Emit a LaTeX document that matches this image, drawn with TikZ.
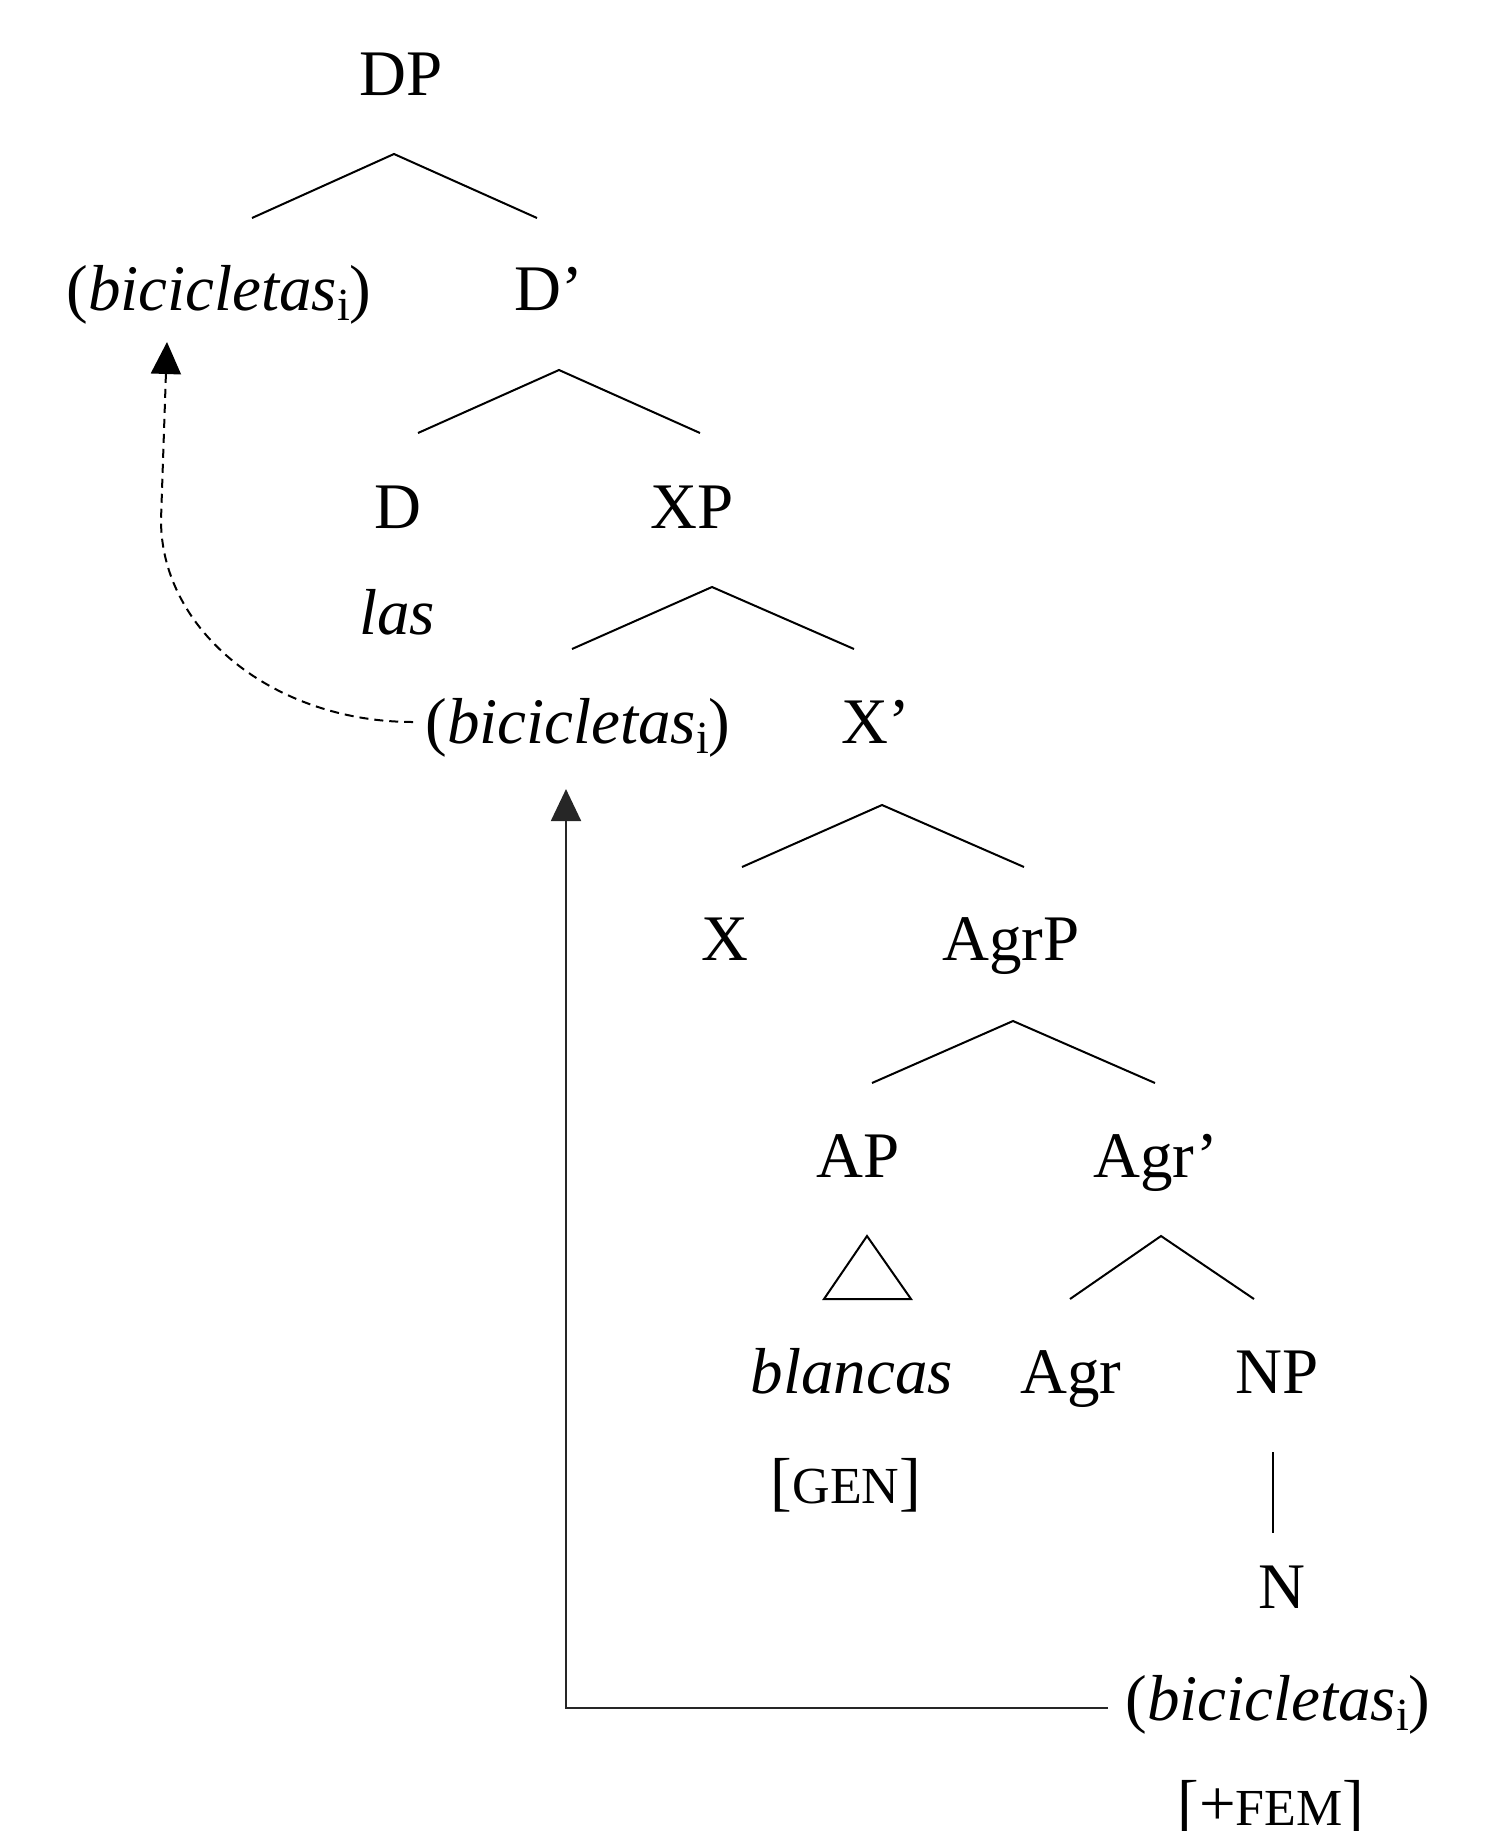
\documentclass[tikz,border=0pt]{standalone}
\usepackage{fontspec}
\setmainfont{Liberation Serif}
\usetikzlibrary{arrows.meta,calc}
\newcommand\subi{\lower 10pt\hbox{\fontsize{46}{46}\selectfont i}}
\newcommand\bic{(\textit{bicicletas}\subi)}
\newcommand\smc[1]{{\fontsize{52}{52}\selectfont #1}}
\begin{document}
\begin{tikzpicture}[x=1pt,y=-1pt,
  lbl/.style={anchor=base,inner sep=0pt,font=\fontsize{65}{78}\selectfont},
  branch/.style={line width=2pt,line join=miter},
  mv/.style={line width=2pt,-{Triangle[width=30pt,length=32pt]}},
  mvdash/.style={mv,dash pattern=on 9pt off 6pt},
]
\useasboundingbox (0,0) rectangle (1503,1831);
% nodes
\node[lbl] (dp) at (401,95) {DP};
\node[lbl] (bic1) at (219,310) {\bic};
\node[lbl] (dbar) at (549,310) {D’};
\node[lbl] (d) at (398,528) {D};
\node[lbl] (xp) at (692,528) {XP};
\node[lbl] (las) at (397,634) {\textit{las}};
\node[lbl] (bic2) at (578,743) {\bic};
\node[lbl] (xbar) at (876,743) {X’};
\node[lbl] (x) at (725,960) {X};
\node[lbl] (agrp) at (1011,960) {AgrP};
\node[lbl] (ap) at (858,1177) {AP};
\node[lbl] (agrbar) at (1156,1177) {Agr’};
\node[lbl] (blancas) at (852,1393) {\textit{blancas}};
\node[lbl] (agr) at (1071,1393) {Agr};
\node[lbl] (np) at (1277,1393) {NP};
\node[lbl] (gen) at (846,1503) {[\smc{GEN}]};
\node[lbl] (n) at (1282,1608) {N};
\node[lbl] (bic3) at (1278,1720) {\bic};
\node[lbl] (fem) at (1271,1825) {[+\smc{FEM}]};
% branches
\draw[branch] (252,218) -- (394,154) -- (537,218);
\draw[branch] (418,433) -- (559,370) -- (700,433);
\draw[branch] (572,649) -- (712,587) -- (854,649);
\draw[branch] (742,867) -- (882,805) -- (1024,867);
\draw[branch] (872,1083) -- (1013,1021) -- (1155,1083);
\draw[branch] (1070,1299) -- (1161,1236) -- (1254,1299);
\draw[branch] (824,1299) -- (867,1236) -- (911,1299) -- cycle;
\draw[branch] (1273,1452) -- (1273,1533);
% movement arrows
\coordinate (corner) at (566,1708);
\coordinate (tip2) at ([yshift=-32pt]bic2.south);
\draw[mv,draw=black!85] ([xshift=-17pt]bic3.west |- corner) -- (corner) -- (corner |- tip2);
\coordinate (bend) at (161,520);
\coordinate (tip) at (167,342);
\coordinate (dstart) at ([xshift=-12pt]bic2.west);
\draw[mvdash] (dstart |- 0,722) .. controls (274,722) and (161,631) .. (bend) -- (tip);
\end{tikzpicture}
\end{document}
